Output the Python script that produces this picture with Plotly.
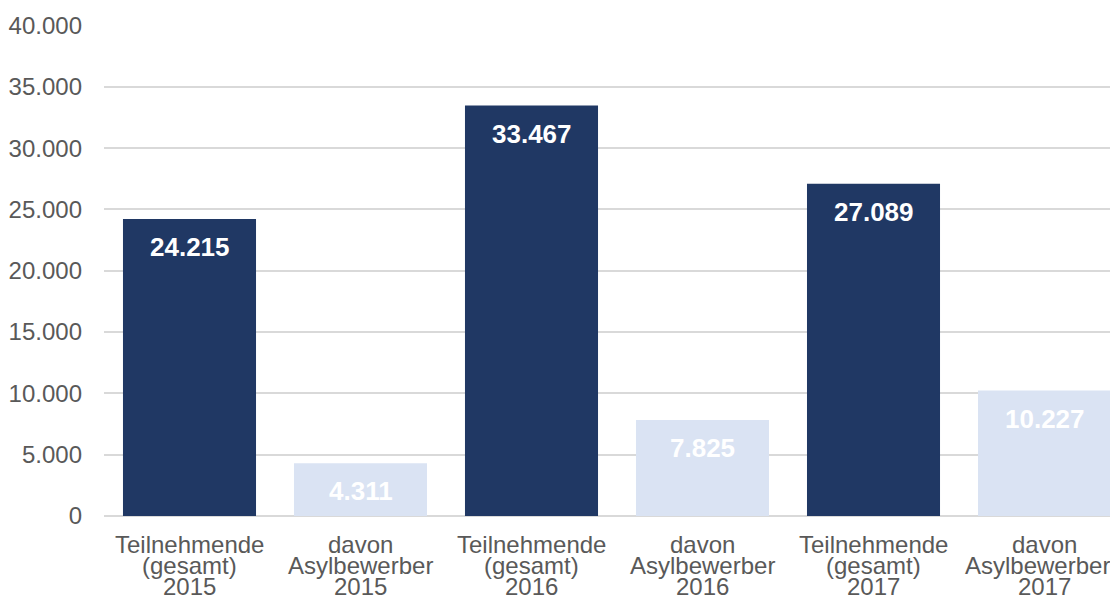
"""Teilnehmende und Asylbewerber 2015-2017 as a Plotly bar chart."""

import plotly.graph_objects as go

CATEGORY_LINES = [
    ["Teilnehmende", "(gesamt)", "2015"],
    ["davon", "Asylbewerber", "2015"],
    ["Teilnehmende", "(gesamt)", "2016"],
    ["davon", "Asylbewerber", "2016"],
    ["Teilnehmende", "(gesamt)", "2017"],
    ["davon", "Asylbewerber", "2017"],
]
VALUES = [24215, 4311, 33467, 7825, 27089, 10227]
LABELS = ["24.215", "4.311", "33.467", "7.825", "27.089", "10.227"]
TICK_VALUES = [0, 5000, 10000, 15000, 20000, 25000, 30000, 35000, 40000]
TICK_LABELS = ["0", "5.000", "10.000", "15.000", "20.000", "25.000", "30.000", "35.000", "40.000"]

DARK = "#203864"
LIGHT = "#dae3f3"
TEXT_GREY = "#595959"
GRID = "#d9d9d9"
FONT = "Liberation Sans, Arial, sans-serif"

x_pos = list(range(len(CATEGORY_LINES)))
colors = [DARK if i % 2 == 0 else LIGHT for i in x_pos]

fig = go.Figure(go.Bar(
    x=x_pos,
    y=VALUES,
    marker_color=colors,
    marker_line_width=0,
    hoverinfo="skip",
))

# value labels sit just below each bar's top
for i, (v, lab) in enumerate(zip(VALUES, LABELS)):
    fig.add_annotation(
        x=i, y=v, text=f"<b>{lab}</b>",
        showarrow=False, yanchor="middle", yshift=-28,
        font=dict(family=FONT, size=26, color="#ffffff"),
    )

# category labels: one annotation per line to get tight line spacing
for i, lines in enumerate(CATEGORY_LINES):
    for j, line in enumerate(lines):
        # the last wide label would run past the page edge
        nudge = -7 if (i == len(CATEGORY_LINES) - 1 and len(line) > 8) else 0
        fig.add_annotation(
            x=i, y=0, xref="x", yref="paper", text=line,
            showarrow=False, yanchor="middle", yshift=-28 - 21 * j, xshift=nudge,
            font=dict(family=FONT, size=24, color=TEXT_GREY),
        )

# page body keeps an 8px margin, so the figure is shrunk to avoid scrollbars
fig.update_layout(
    width=1102,
    height=592,
    plot_bgcolor="#ffffff",
    paper_bgcolor="#ffffff",
    font=dict(family=FONT, color=TEXT_GREY, size=24),
    bargap=0.222,
    showlegend=False,
    margin=dict(l=96, r=0, t=17, b=84),
    xaxis=dict(
        range=[-0.5, 5.383],
        showticklabels=False,
        showgrid=False,
        zeroline=False,
        showline=False,
        ticks="",
    ),
    yaxis=dict(
        range=[0, 40040],
        tickmode="array",
        tickvals=TICK_VALUES,
        ticktext=TICK_LABELS,
        gridcolor=GRID,
        gridwidth=1.5,
        zeroline=True,
        zerolinecolor=GRID,
        zerolinewidth=2,
        showline=False,
        ticks="",
        ticklabelstandoff=21,
        tickfont=dict(family=FONT, size=24, color=TEXT_GREY),
    ),
)

fig.write_html("out.html")
